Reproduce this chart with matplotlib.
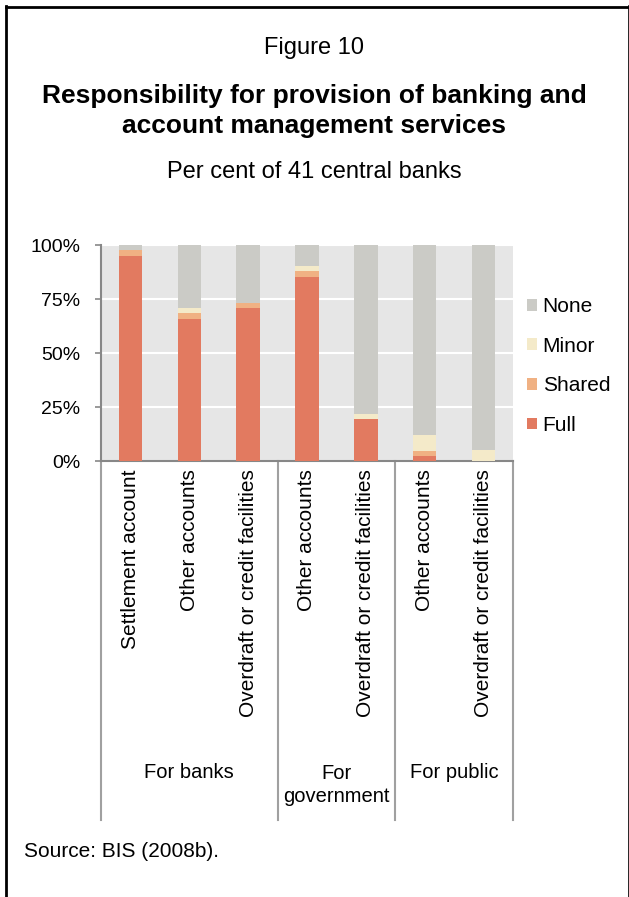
import matplotlib
matplotlib.use("Agg")
import matplotlib.pyplot as plt
from matplotlib.lines import Line2D
from matplotlib.ticker import FuncFormatter
import numpy as np

plt.rcParams['font.family'] = ['Liberation Sans', 'DejaVu Sans']

# Data: per cent of 41 central banks
categories = ["Settlement account", "Other accounts", "Overdraft or credit facilities",
              "Other accounts", "Overdraft or credit facilities",
              "Other accounts", "Overdraft or credit facilities"]
groups = ["For banks", "For\ngovernment", "For public"]
group_sizes = [3, 2, 2]

full = [95.1, 65.9, 70.7, 85.4, 19.5, 2.4, 0.0]
shared = [2.4, 2.4, 2.4, 2.4, 0.0, 2.4, 0.0]
minor = [0.0, 2.4, 0.0, 2.4, 2.4, 7.3, 4.9]
none = [2.5, 29.3, 26.9, 9.8, 78.1, 87.9, 95.1]

series = [("Full", full, "#E27A60"),
          ("Shared", shared, "#F0B183"),
          ("Minor", minor, "#F4EAC9"),
          ("None", none, "#CBCBC6")]

W, H = 629, 897
fig = plt.figure(figsize=(W / 100, H / 100), dpi=100)
fig.patch.set_facecolor("white")

def fx(px):
    return px / W

def fy(py):
    return 1 - py / H

ax = fig.add_axes([fx(101), fy(461), fx(513) - fx(101), fy(245) - fy(461)])
ax.set_facecolor("#E6E6E6")

x = np.arange(len(categories))
bottom = np.zeros(len(categories))
handles = []
for name, vals, col in series:
    v = np.array(vals) / 100.0
    b = ax.bar(x, v, width=0.4, bottom=bottom, color=col, label=name,
               edgecolor="none", zorder=3)
    handles.append(b)
    bottom += v

ax.set_xlim(-0.5, len(categories) - 0.5)
ax.set_ylim(0, 1)
ax.set_yticks([0, 0.25, 0.5, 0.75, 1.0])
ax.yaxis.set_major_formatter(FuncFormatter(lambda v, p: f"{int(round(v * 100))}%"))
ax.yaxis.grid(True, color="white", linewidth=1.5, zorder=1)
ax.set_axisbelow(True)

for s in ("top", "right"):
    ax.spines[s].set_visible(False)
for s in ("left", "bottom"):
    ax.spines[s].set_color("#878787")
    ax.spines[s].set_linewidth(1.5)

ax.tick_params(axis="y", direction="out", length=4, width=1.2, color="#878787",
               labelsize=14, pad=11, labelcolor="black")
ax.set_xticks(x)
ax.set_xticklabels(categories, rotation=90, va="top", ha="center", fontsize=15)
ax.tick_params(axis="x", length=0, pad=6)

# Group separators and group labels below the category labels
trans = ax.get_xaxis_transform()
edges = np.concatenate([[0], np.cumsum(group_sizes)]) - 0.5
for e in edges:
    ax.add_line(Line2D([e, e], [0, -1.66], transform=trans, color="#A0A0A0",
                       linewidth=1.5, clip_on=False))
for i, g in enumerate(groups):
    cx = (edges[i] + edges[i + 1]) / 2
    ypos = -1.44 if "\n" not in g else -1.50
    ax.text(cx, ypos, g, transform=trans, ha="center", va="center",
            fontsize=14.5, linespacing=1.25)

# Legend (stacking order top to bottom)
ax.legend(handles[::-1], [h.get_label() for h in handles[::-1]],
          loc="upper left", bbox_to_anchor=(fx(527), fy(297)),
          bbox_transform=fig.transFigure, frameon=False, fontsize=15,
          handlelength=0.5, handleheight=0.5, handletextpad=0.25,
          labelspacing=0.99, borderaxespad=0, borderpad=0)

# Titles
fig.text(0.5, fy(48), "Figure 10", ha="center", va="center", fontsize=17)
fig.text(0.5, fy(111), "Responsibility for provision of banking and\naccount management services",
         ha="center", va="center", fontsize=19, fontweight="bold", linespacing=1.32)
fig.text(0.5, fy(172), "Per cent of 41 central banks", ha="center", va="center", fontsize=17)

# Source note
fig.text(fx(24), fy(851), "Source: BIS (2008b).", ha="left", va="center", fontsize=15)

# Frame lines around the panel
fig.add_artist(Line2D([fx(6.5), fx(6.5)], [fy(6.5), 0], transform=fig.transFigure,
                      color="black", linewidth=2.0))
fig.add_artist(Line2D([fx(6), 1], [fy(7.5), fy(7.5)], transform=fig.transFigure,
                      color="black", linewidth=2.0))
fig.add_artist(Line2D([fx(628.5), fx(628.5)], [fy(6.5), 0], transform=fig.transFigure,
                      color="black", linewidth=1.2))

fig.savefig("out.png", dpi=100, facecolor="white")
